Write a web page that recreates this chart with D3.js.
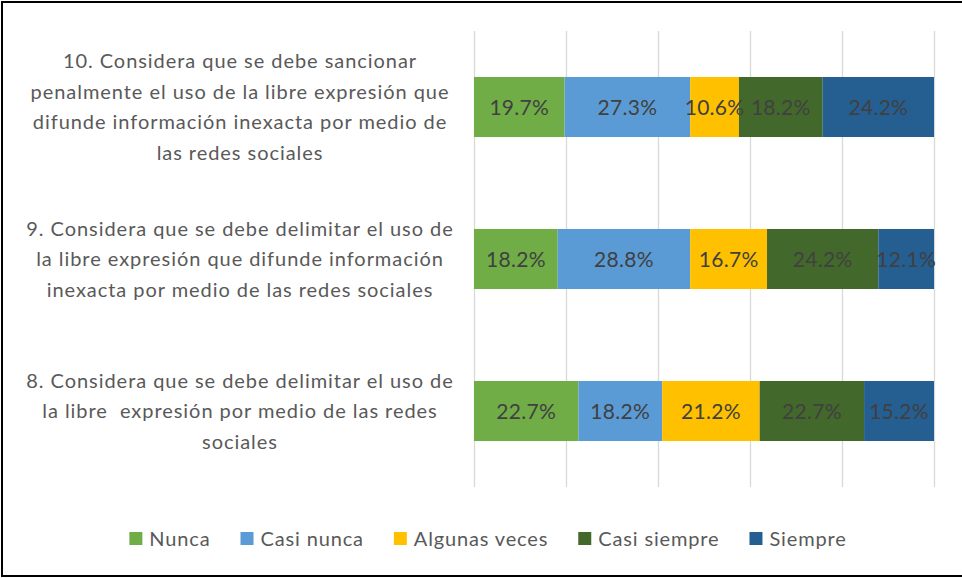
<!DOCTYPE html>
<html><head><meta charset="utf-8">
<script src="https://cdn.jsdelivr.net/npm/d3@7"></script>
<style>
html,body{margin:0;padding:0;background:#fff;}
svg text{white-space:pre;}
</style></head>
<body><svg id="c" width="962" height="578"></svg>
<script>
const categories = ["10", "9", "8"];
const labelLines = [
  ["10. Considera que se debe sancionar", "penalmente el uso de la libre expresión que", "difunde información inexacta por medio de", "las redes sociales"],
  ["9. Considera que se debe delimitar el uso de", "la libre expresión que difunde información", "inexacta por medio de las redes sociales"],
  ["8. Considera que se debe delimitar el uso de", "la libre  expresión por medio de las redes", "sociales"]
];
const seriesNames = ["Nunca", "Casi nunca", "Algunas veces", "Casi siempre", "Siempre"];
const nunca        = [19.7, 18.2, 22.7];
const casiNunca    = [27.3, 28.8, 18.2];
const algunasVeces = [10.6, 16.7, 21.2];
const casiSiempre  = [18.2, 24.2, 22.7];
const siempre      = [24.2, 12.1, 15.2];
const colors = ["#70AD47", "#5B9BD5", "#FFC000", "#43682B", "#255E91"];
const xTicks = [0, 20, 40, 60, 80, 100];

const seriesValues = [nunca, casiNunca, algunasVeces, casiSiempre, siempre];
const rows = categories.map((c, i) => {
  const r = {cat: c};
  seriesNames.forEach((s, j) => r[s] = seriesValues[j][i]);
  return r;
});
const stacked = d3.stack().keys(seriesNames)(rows);

const svg = d3.select("#c");
const FONT = "Lato, 'Open Sans', sans-serif";

svg.append("rect").attr("x", 2).attr("y", 2).attr("width", 965).attr("height", 574)
  .attr("fill", "#fff").attr("stroke", "#000").attr("stroke-width", 2);

const x = d3.scaleLinear().domain([0, 100]).range([474, 934]);
const y = d3.scaleBand().domain(categories).range([31, 487]).paddingInner(0.605).paddingOuter(0.3025);

// gridlines
svg.append("g").selectAll("line").data(xTicks).join("line")
  .attr("x1", d => x(d) + 0.5).attr("x2", d => x(d) + 0.5)
  .attr("y1", 31).attr("y2", 487)
  .attr("stroke", "#D9D9D9").attr("stroke-width", 1.3);

// bars
const g = svg.append("g");
stacked.forEach((s, j) => {
  g.append("g").attr("fill", colors[j]).selectAll("rect").data(s).join("rect")
    .attr("x", d => x(d[0])).attr("width", d => x(d[1]) - x(d[0]))
    .attr("y", d => y(d.data.cat)).attr("height", y.bandwidth());
});
// data labels
stacked.forEach((s, j) => {
  g.append("g").selectAll("text").data(s).join("text")
    .attr("x", d => (x(d[0]) + x(d[1])) / 2)
    .attr("y", d => y(d.data.cat) + y.bandwidth() / 2)
    .attr("dy", "0.36em")
    .attr("text-anchor", "middle")
    .attr("font-family", FONT).attr("font-size", 21).attr("letter-spacing", 0.3)
    .attr("fill", "#404040")
    .text(d => (d[1] - d[0]).toFixed(1) + "%");
});

// category labels
const lh = 30.5;
categories.forEach((c, i) => {
  const lines = labelLines[i];
  const cy = y(c) + y.bandwidth() / 2;
  const t = svg.append("text").attr("font-family", FONT).attr("font-size", 20)
    .attr("letter-spacing", 0.95).attr("fill", "#595959").attr("text-anchor", "middle");
  lines.forEach((ln, k) => {
    t.append("tspan").attr("x", 240)
      .attr("y", cy + (k - (lines.length - 1) / 2) * lh).attr("dy", "0.36em").text(ln);
  });
});

// legend
const lg = svg.append("g");
const items = seriesNames.map((n, j) => {
  const it = lg.append("g");
  it.append("rect").attr("width", 13).attr("height", 13).attr("y", -7).attr("fill", colors[j]);
  const t = it.append("text").attr("x", 20).attr("dy", "0.36em")
    .attr("font-family", FONT).attr("font-size", 20).attr("letter-spacing", 0.85)
    .attr("fill", "#595959").text(n);
  return {it, w: 20 + t.node().getComputedTextLength()};
});
const gap = 30;
const total = d3.sum(items, d => d.w) + gap * (items.length - 1);
let cx = 488 - total / 2;
items.forEach(d => { d.it.attr("transform", `translate(${cx},539)`); cx += d.w + gap; });
</script></body></html>
